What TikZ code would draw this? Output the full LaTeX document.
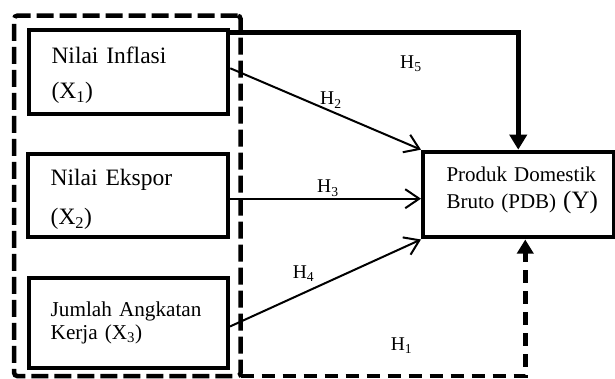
\documentclass[tikz,border=0pt]{standalone}
\usepackage{fontspec}
\setmainfont{Liberation Serif}
\usetikzlibrary{arrows.meta}
\begin{document}
\begin{tikzpicture}[x=1pt,y=-1pt,
  varbox/.style={draw, line width=4pt, rectangle, align=left, inner sep=0pt},
  grpbox/.style={draw, line width=4.5pt, dash pattern=on 17pt off 6pt, rounded corners=3pt, inner sep=0pt, outer sep=0pt},
  thinarrow/.style={line width=2pt, -{Straight Barb[length=14pt,width=19pt,line width=2pt]}},
  thickarrow/.style={line width=4.5pt, -{Triangle[length=15pt,width=17pt]}},
  dasharrow/.style={line width=4.5pt, dash pattern=on 13pt off 8pt, -{Triangle[length=14pt,width=16pt]}},
  hlabel/.style={font=\fontsize{19.5}{22}\selectfont, inner sep=0pt, anchor=base west}
]
\useasboundingbox (0,0) rectangle (615,379);

\node[grpbox, minimum width=226.3pt, minimum height=360.3pt] (grp) at (127.35,195.85) {};

\node[varbox, minimum width=199pt, minimum height=84pt, text width=154.6pt,
      font=\fontsize{23.5}{28}\selectfont] (x1) at (128.8,72.3)
      {\rule{0pt}{22pt}Nilai Inflasi\\[7pt](X\textsubscript{1})};
\node[varbox, minimum width=200pt, minimum height=83.5pt, text width=155.2pt,
      font=\fontsize{23.5}{28}\selectfont] (x2) at (128.3,195.7)
      {\rule{0pt}{24pt}Nilai Ekspor\\[11.3pt](X\textsubscript{2})};
\node[varbox, minimum width=199.3pt, minimum height=90pt, text width=155.2pt,
      font=\fontsize{21.2}{22.7}\selectfont] (x3) at (128.3,323)
      {Jumlah Angkatan\\Kerja (X\textsubscript{3})};
\node[varbox, minimum width=190.5pt, minimum height=85.8pt, text width=143.5pt,
      font=\fontsize{21}{27.7}\selectfont] (y) at (518.25,194.6)
      {\mbox{Produk Domestik}\\\mbox{Bruto (PDB) {\fontsize{25}{27.7}\selectfont(Y)}}\rule[-13.5pt]{0pt}{0pt}};

\draw[thickarrow] ([yshift=-4.2pt]x1.north east) -| (y.north);
\draw[thinarrow] ([yshift=4pt]x1.east) -- (y.north west);
\draw[thinarrow] ([yshift=-3pt]x2.east) -- ([yshift=-3pt]x2.east -| y.west);
\draw[thinarrow] ([yshift=-3.5pt]x3.east) -- (y.south west);
\draw[dasharrow] (grp.south east) -| ([xshift=7pt]y.south);

\node[hlabel] (h5) at (400,68.3) {H\textsubscript{5}};
\node[hlabel] (h2) at (320,105) {H\textsubscript{2}};
\node[hlabel] (h3) at (317,193) {H\textsubscript{3}};
\node[hlabel] (h4) at (292.7,278) {H\textsubscript{4}};
\node[hlabel] (h1) at (390.7,350) {H\textsubscript{1}};
\end{tikzpicture}
\end{document}
